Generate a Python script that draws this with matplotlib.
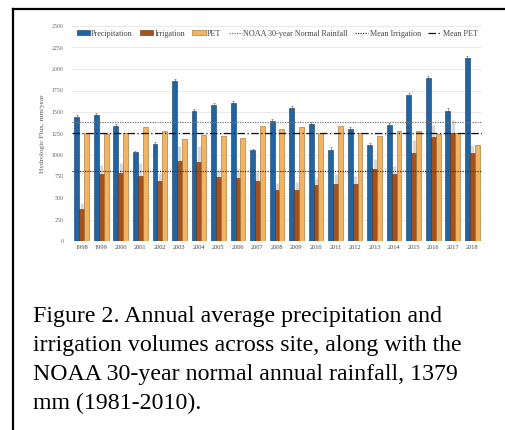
import numpy as np
import matplotlib
matplotlib.use("Agg")
import matplotlib.pyplot as plt
from matplotlib.patches import Patch
from matplotlib.lines import Line2D

# values (mm/year)
years = list(range(1998, 2019))
precip = [1445, 1469, 1337, 1031, 1128, 1860, 1512, 1581, 1605, 1054, 1399,
          1543, 1357, 1062, 1302, 1116, 1345, 1701, 1891, 1516, 2124]
irrig = [372, 775, 787, 760, 694, 934, 919, 740, 736, 698, 593,
         593, 647, 667, 663, 837, 775, 1020, 1213, 1252, 1027]
pet = [1252, 1244, 1255, 1329, 1279, 1186, 1229, 1221, 1201, 1337, 1302,
       1326, 1260, 1337, 1252, 1217, 1279, 1279, 1244, 1252, 1116]
precip_err = [25, 25, 25, 20, 20, 25, 25, 25, 25, 20, 25,
              25, 25, 30, 25, 20, 25, 25, 30, 25, 30]
irrig_err = [70, 110, 120, 150, 100, 170, 180, 90, 110, 100, 80,
             90, 90, 110, 90, 120, 100, 150, 140, 150, 90]

noaa_normal = 1379
mean_irrig = 812
mean_pet = 1255

blue = "#1f64a3"
brown = "#a3521f"
tan = "#f2b463"

plt.rcParams['font.family'] = ['Liberation Serif', 'DejaVu Serif']

fig = plt.figure(figsize=(5.06, 4.30), dpi=100)
ax = fig.add_axes([72/506, 1 - 241/430, 410/506, 215/430])

x = np.arange(len(years))
w = 0.25
ax.bar(x - w, precip, w, color=blue, edgecolor="#123a60", linewidth=0.4, zorder=2)
ax.bar(x, irrig, w, color=brown, edgecolor="#5a2b0e", linewidth=0.4, zorder=2)
ax.bar(x + w, pet, w, color=tan, edgecolor="#9a6a2a", linewidth=0.4, zorder=2)
ax.errorbar(x, irrig, yerr=[[0]*len(irrig), irrig_err], fmt="none",
            ecolor="#d8d8d8", elinewidth=2.5, capsize=0, zorder=1.5)
ax.errorbar(x - w, precip, yerr=precip_err, fmt="none", ecolor="#555555",
            elinewidth=0.4, capsize=1, capthick=0.4, zorder=3)

noaa_ls = (0, (1, 1))
irr_ls = (0, (1, 1))
pet_ls = (0, (6, 2, 1, 2))
ax.axhline(noaa_normal, color="#777777", linestyle=noaa_ls, linewidth=0.9, zorder=4)
ax.axhline(mean_irrig, color="#333333", linestyle=irr_ls, linewidth=0.9, zorder=4)
ax.axhline(mean_pet, color="#111111", linestyle=pet_ls, linewidth=0.9, zorder=4)

ax.set_xlim(-0.5, 20.5)
ax.set_ylim(0, 2500)
ax.set_yticks(range(0, 2501, 250))
ax.set_xticks(x)
ax.set_xticklabels([str(y) for y in years], fontsize=4.6, color="#444444")
ax.tick_params(axis="y", labelsize=4.2, labelcolor="#666666", length=0, pad=6)
ax.tick_params(axis="x", length=0, pad=3)
ax.grid(axis="y", color="#e6e6e6", linewidth=0.6, zorder=0)
ax.set_axisbelow(True)
for s in ax.spines.values():
    s.set_visible(False)
ax.set_ylabel("Hydrologic Flux, mm/year", fontsize=5.2, color="#555555", labelpad=5)

handles = [Patch(facecolor=blue, edgecolor="#123a60", linewidth=0.4),
           Patch(facecolor=brown, edgecolor="#5a2b0e", linewidth=0.4),
           Patch(facecolor=tan, edgecolor="#9a6a2a", linewidth=0.4),
           Line2D([], [], color="#777777", linestyle=noaa_ls, linewidth=0.9),
           Line2D([], [], color="#333333", linestyle=irr_ls, linewidth=0.9),
           Line2D([], [], color="#111111", linestyle=pet_ls, linewidth=0.9)]
labels = ["Precipitation", "Irrigation", "PET", "NOAA 30-year Normal Rainfall",
          "Mean Irrigation", "Mean PET"]
ax.legend(handles, labels, loc="upper center", bbox_to_anchor=(0.5, 1.01), ncol=6,
          fontsize=5.9, frameon=False, handlelength=1.6, handleheight=0.5,
          columnspacing=0.85, handletextpad=0.2, borderaxespad=0.3,
          labelcolor="#444444")

caption = ("Figure 2. Annual average precipitation and\n"
           "irrigation volumes across site, along with the\n"
           "NOAA 30-year normal annual rainfall, 1379\n"
           "mm (1981-2010).")
fig.text(33/506, 1 - 306/430, caption, fontsize=17.2, va="top", ha="left",
         linespacing=1.5, color="black")

# frame lines on left and top
fig.add_artist(Line2D([13/506, 13/506], [0, 1 - 9/430], color="black", linewidth=1.6))
fig.add_artist(Line2D([13/506, 1], [1 - 9/430, 1 - 9/430], color="black", linewidth=1.6))

fig.savefig("out.png", dpi=100)
